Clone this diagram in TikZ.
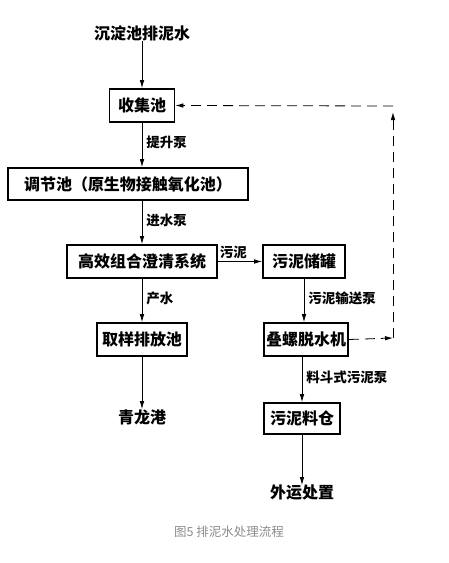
\documentclass[tikz,border=0pt]{standalone}
\usepackage{fontspec}
\newfontfamily\cjk{Noto Sans CJK SC}
\usetikzlibrary{arrows.meta}
\definecolor{captiongray}{RGB}{140,140,140}
\tikzstyle{unit}=[draw, line width=1.6pt, minimum height=33pt, inner sep=2pt, font=\cjk\bfseries\fontsize{16}{16}\selectfont]
\tikzstyle{terminal}=[inner sep=0pt, font=\cjk\bfseries\fontsize{16}{16}\selectfont]
\tikzstyle{pump}=[anchor=west, inner sep=0pt, font=\cjk\bfseries\fontsize{13.5}{13.5}\selectfont]
\tikzstyle{flow}=[line width=0.8pt, -{Latex[length=8pt,width=4.5pt]}]
\tikzstyle{return}=[flow, dash pattern=on 10pt off 6pt]

\begin{document}
\begin{tikzpicture}[x=1pt, y=-1pt]
      \useasboundingbox (0,0) rectangle (448,563);
      \node[terminal] (src) at (142, 33) {沉淀池排泥水};
      \node[unit, minimum width=65pt] (collect) at (142, 105.5) {收集池};
      \node[unit, minimum width=240pt, minimum height=32pt] (adjust) at (128, 184) {调节池（原生物接触氧化池）};
      \node[unit, minimum width=150pt] (clarify) at (142, 261.5) {高效组合澄清系统};
      \node[unit, minimum width=82pt] (tank) at (304, 261.5) {污泥储罐};
      \node[unit, minimum width=90pt] (discharge) at (142, 339.5) {取样排放池};
      \node[unit, minimum width=80pt] (dewater) at (306, 339.5) {叠螺脱水机};
      \node[unit, minimum width=76pt, minimum height=31pt] (silo) at (302, 418.5) {污泥料仓};
      \node[terminal] (river) at (142, 417) {青龙港};
      \node[terminal] (haul) at (302, 493) {外运处置};
      \coordinate (ret1) at (393, 338);
      \coordinate (ret2) at (393, 106);
      \draw[flow] (src) -- (collect);
      \draw[flow] (collect.south) -- (collect.south |- adjust.north)
        node[pump, pos=0.45, xshift=4pt] {提升泵};
      \draw[flow] (collect.south |- adjust.south) -- (clarify.north)
        node[pump, pos=0.45, xshift=4pt] {进水泵};
      \draw[flow] (clarify) -- (tank)
        node[pump, anchor=south, pos=0.35, yshift=2pt] {污泥};
      \draw[flow] (clarify) -- (discharge)
        node[pump, pos=0.45, xshift=4pt] {产水};
      \draw[flow] (tank.south) -- (tank.south |- dewater.north)
        node[pump, pos=0.45, xshift=4pt] {污泥输送泵};
      \draw[flow] (discharge.south) -- (river.north);
      \draw[flow] (silo.north |- dewater.south) -- (silo.north)
        node[pump, pos=0.45, xshift=4pt] {料斗式污泥泵};
      \draw[flow] (silo) -- (haul);
      \draw[return] (dewater.east) -- (ret1);
      \draw[return, shorten >=6pt] (ret1) -- (ret2);
      \draw[return] (ret2) -- (collect.east);
      \node[font=\cjk\fontsize{12.5}{12.5}\selectfont, text=captiongray] (caption) at (229, 532) {图5 排泥水处理流程};
    \end{tikzpicture}
\end{document}
